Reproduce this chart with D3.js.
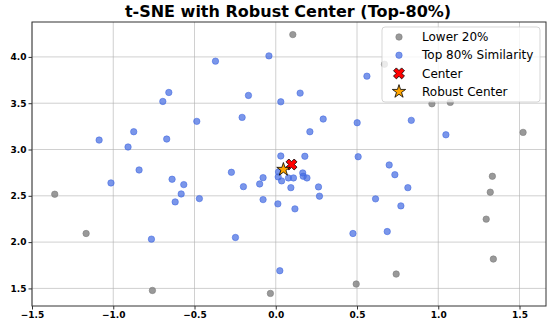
<!DOCTYPE html>
<html>
<head>
<meta charset="utf-8">
<script src="https://cdn.jsdelivr.net/npm/d3@7"></script>
<style>
  body { margin: 0; background: #fff; }
  svg { font-family: "DejaVu Sans", sans-serif; }
</style>
</head>
<body>
<div id="chart"></div>
<script>
// t-SNE coordinates
const topX = [-1.087, -0.909, -0.874, -0.695, -0.658, -0.671, -0.486, -0.371, -0.168, -0.207,
  -0.042, 0.561, 0.150, 0.031, 0.292, 0.210, 0.501, 0.834, 1.047, 0.031,
  0.179, 0.507, -0.841, -1.014, -0.638, -0.566, -0.582, -0.619, -0.470, -0.273,
  -0.078, -0.199, -0.099, -0.078, 0.013, -0.765, -0.248, 0.698, 0.733, 0.263,
  0.813, 0.269, 0.614, 0.118, 0.770, 0.475, 0.686, 0.025, 0.017, 0.015,
  0.036, 0.078, 0.109, 0.093, 0.166, 0.169, 0.192];
const topY = [3.102, 3.027, 3.192, 3.519, 3.616, 3.113, 3.304, 3.954, 3.584, 3.347,
  4.011, 3.792, 3.609, 3.515, 3.329, 3.192, 3.289, 3.315, 3.159, 2.930,
  2.927, 2.922, 2.779, 2.639, 2.679, 2.621, 2.520, 2.434, 2.470, 2.754,
  2.696, 2.599, 2.628, 2.459, 2.413, 2.032, 2.050, 2.833, 2.728, 2.596,
  2.588, 2.496, 2.467, 2.359, 2.391, 2.093, 2.114, 1.691, 2.758, 2.704,
  2.661, 2.693, 2.693, 2.588, 2.747, 2.711, 2.693];

const lowX = [0.105, 0.669, 0.961, 1.074, 1.522, -1.360, -1.167, -0.759, -0.033, 1.333,
  1.320, 1.295, 1.339, 0.741, 0.495];
const lowY = [4.241, 3.921, 3.494, 3.509, 3.185, 2.517, 2.093, 1.478, 1.446, 2.711,
  2.539, 2.248, 1.817, 1.655, 1.547];

const center = [0.097, 2.838];
const robustCenter = [0.047, 2.784];

const xTicks = [-1.5, -1.0, -0.5, 0.0, 0.5, 1.0, 1.5];
const yTicks = [1.5, 2.0, 2.5, 3.0, 3.5, 4.0];
const legendLabels = ["Lower 20%", "Top 80% Similarity", "Center", "Robust Center"];

const W = 550, H = 324;
const margin = {top: 22, right: 4, bottom: 18, left: 32};
const width = W - margin.left - margin.right;
const height = H - margin.top - margin.bottom;

const svg = d3.select('#chart').append('svg')
    .attr('width', W)
    .attr('height', H);

svg.append('text')
    .attr('x', margin.left + width / 2 - 1)
    .attr('y', 17)
    .attr('text-anchor', 'middle')
    .style('font-size', '16px')
    .style('font-weight', 'bold')
    .text('t-SNE with Robust Center (Top-80%)');

const g = svg.append('g')
    .attr('transform', `translate(${margin.left},${margin.top})`);

const xScale = d3.scaleLinear().domain([-1.5, 1.663]).range([0, width]);
const yScale = d3.scaleLinear().domain([1.31, 4.377]).range([height, 0]);

// grid
g.append('g').selectAll('line')
    .data(xTicks).enter().append('line')
    .attr('x1', d => xScale(d)).attr('x2', d => xScale(d))
    .attr('y1', 0).attr('y2', height)
    .style('stroke', '#b0b0b0').style('stroke-opacity', 0.6);
g.append('g').selectAll('line')
    .data(yTicks).enter().append('line')
    .attr('y1', d => yScale(d)).attr('y2', d => yScale(d))
    .attr('x1', 0).attr('x2', width)
    .style('stroke', '#b0b0b0').style('stroke-opacity', 0.6);

// axes
const fmt = d3.format('.1f');
const xAxis = g.append('g')
    .attr('transform', `translate(0,${height})`)
    .call(d3.axisBottom(xScale).tickValues(xTicks).tickFormat(d => fmt(d).replace('-', '\u2212')).tickSizeOuter(0).tickSize(3.5).tickPadding(2));
const yAxis = g.append('g')
    .call(d3.axisLeft(yScale).tickValues(yTicks).tickFormat(fmt).tickSizeOuter(0).tickSize(3.5).tickPadding(2));
[xAxis, yAxis].forEach(a => {
    a.select('.domain').remove();
    a.selectAll('text').style('font-size', '9px').style('font-weight', 'bold')
        .style('font-family', '"DejaVu Sans", sans-serif').attr('fill', '#000');
    a.selectAll('line').attr('stroke', '#333');
});

// points
g.append('g').selectAll('circle')
    .data(lowX.map((x, i) => [x, lowY[i]]))
    .enter().append('circle')
    .attr('cx', d => xScale(d[0]))
    .attr('cy', d => yScale(d[1]))
    .attr('r', 3.2)
    .style('fill', 'gray').style('fill-opacity', 0.8)
    .style('stroke', 'gray').style('stroke-opacity', 0.8).style('stroke-width', 0.8);

g.append('g').selectAll('circle')
    .data(topX.map((x, i) => [x, topY[i]]))
    .enter().append('circle')
    .attr('cx', d => xScale(d[0]))
    .attr('cy', d => yScale(d[1]))
    .attr('r', 3.2)
    .style('fill', 'royalblue').style('fill-opacity', 0.7)
    .style('stroke', 'royalblue').style('stroke-opacity', 0.7).style('stroke-width', 0.8);

// filled X marker (a plus rotated by 45 degrees)
function crossPath(ext) {
    const L = ext / 2 * Math.SQRT2 / 1.35, t = L * 0.35;
    const pts = [[t, L], [t, t], [L, t], [L, -t], [t, -t], [t, -L],
                 [-t, -L], [-t, -t], [-L, -t], [-L, t], [-t, t], [-t, L]];
    const c = Math.SQRT1_2;
    return 'M' + pts.map(p => [(p[0] - p[1]) * c, (p[0] + p[1]) * c].join(',')).join('L') + 'Z';
}
g.append('path')
    .attr('d', crossPath(11))
    .attr('transform', `translate(${xScale(center[0])},${yScale(center[1])})`)
    .style('fill', 'red').style('stroke', '#000').style('stroke-width', 0.8);
g.append('path')
    .attr('d', d3.symbol().type(d3.symbolStar).size(55)())
    .attr('transform', `translate(${xScale(robustCenter[0])},${yScale(robustCenter[1])})`)
    .style('fill', 'orange').style('stroke', '#000').style('stroke-width', 0.8);

// frame
g.append('rect')
    .attr('width', width).attr('height', height)
    .style('fill', 'none').style('stroke', '#333').style('stroke-width', 1);

// legend
const leg = g.append('g').attr('transform', `translate(${350},${5})`);
leg.append('rect')
    .attr('width', 158).attr('height', 75).attr('rx', 3)
    .style('fill', '#fff').style('fill-opacity', 0.8)
    .style('stroke', '#ccc').style('stroke-opacity', 0.8);
legendLabels.forEach((lab, i) => {
    const yy = 10 + i * 18.2;
    const mg = leg.append('g').attr('transform', `translate(17,${yy})`);
    if (i === 0) {
        mg.append('circle').attr('r', 3.2).style('fill', 'gray').style('fill-opacity', 0.8)
            .style('stroke', 'gray').style('stroke-opacity', 0.8).style('stroke-width', 0.8);
    } else if (i === 1) {
        mg.append('circle').attr('r', 3.2).style('fill', 'royalblue').style('fill-opacity', 0.7)
            .style('stroke', 'royalblue').style('stroke-opacity', 0.7).style('stroke-width', 0.8);
    } else if (i === 2) {
        mg.append('path').attr('d', crossPath(11)).style('fill', 'red').style('stroke', '#000').style('stroke-width', 0.8);
    } else {
        mg.append('path').attr('d', d3.symbol().type(d3.symbolStar).size(55)())
            .style('fill', 'orange').style('stroke', '#000').style('stroke-width', 0.8);
    }
    leg.append('text')
        .attr('x', 40).attr('y', yy)
        .attr('dy', '0.35em')
        .style('font-size', '12px')
        .text(lab);
});
</script>
</body>
</html>
